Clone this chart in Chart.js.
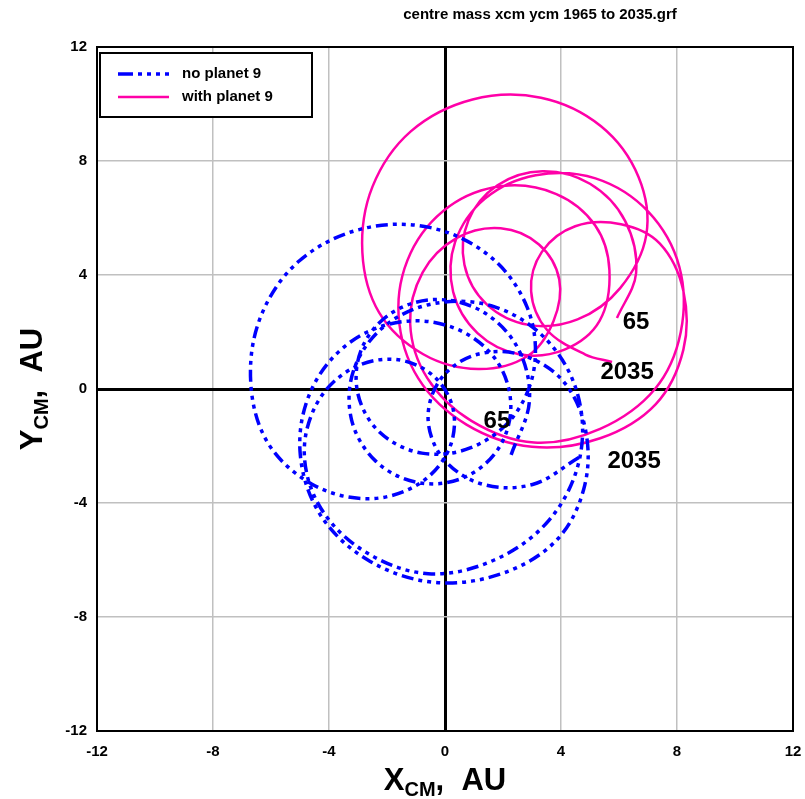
<!DOCTYPE html>
<html>
<head>
<meta charset="utf-8">
<title>centre mass xcm ycm 1965 to 2035</title>
<script src="https://cdn.jsdelivr.net/npm/chart.js@4.4.0/dist/chart.umd.min.js"></script>
<style>
  html, body { margin: 0; padding: 0; background: #ffffff; }
</style>
</head>
<body>
<canvas id="centreMass" width="805" height="799"></canvas>
<script>
// Sun's centre of mass path, one point a year from 1965 to 2035

// no planet 9 (blue, dash-dot-dot)
const noPlanet9X = [
    2.28, 2.91, 2.53, 1.32, -0.32, -1.87, -2.87, -3.01, -2.25, -0.80,
    0.89, 2.36, 3.09, 2.82, 1.53, -0.54, -2.90, -5.03, -6.35, -6.70,
    -6.12, -4.60, -2.71, -1.00, 0.09, 0.29, -0.41, -1.73, -3.24, -4.42,
    -4.85, -4.26, -2.74, -0.58, 1.70, 3.59, 4.63, 4.58, 3.50, 1.69,
    -0.37, -2.12, -3.15, -3.22, -2.38, -0.95, 0.62, 1.83, 2.27, 1.78,
    0.44, -1.41, -3.26, -4.59, -5.00, -4.32, -2.66, -0.40, 1.95, 3.87,
    4.82, 4.82, 4.01, 2.52, 0.94, -0.21, -0.58, -0.03, 1.29, 3.02,
    4.64
];
const noPlanet9Y = [
    -2.31, -0.43, 1.40, 2.70, 3.14, 2.65, 1.42, -0.14, -1.52, -2.25,
    -2.06, -0.96, 0.85, 2.90, 4.67, 5.67, 5.61, 4.49, 2.55, 0.25,
    -1.87, -3.33, -3.85, -3.39, -2.22, -0.76, 0.47, 1.04, 0.70, -0.51,
    -2.32, -4.22, -5.72, -6.48, -6.00, -4.60, -2.50, -0.21, 1.73, 2.89,
    3.00, 2.18, 0.66, -1.09, -2.54, -3.28, -3.12, -2.11, -0.58, 0.99,
    2.09, 2.37, 1.65, 0.01, -2.17, -4.38, -6.00, -6.78, -6.48, -5.28,
    -3.37, -1.31, 0.35, 1.23, 1.16, 0.26, -1.12, -2.48, -3.34, -3.35,
    -2.39
];

// with planet 9 (pink, solid) - the trace stops under the "2035" label
const withPlanet9X = [
    5.93, 6.59, 6.21, 5.00, 3.36, 1.81, 0.81, 0.67, 1.43, 2.88,
    4.57, 6.04, 6.94, 6.67, 5.38, 3.31, 0.95, -1.18, -2.50, -2.85,
    -2.27, -0.75, 1.14, 2.85, 3.74, 3.94, 3.24, 1.92, 0.41, -0.77,
    -1.20, -0.61, 0.91, 3.07, 5.35, 7.24, 8.13, 8.08, 7.00, 5.19,
    3.13, 1.38, 0.35, 0.28, 1.12, 2.55, 4.12, 5.33, 5.67, 5.18,
    3.84, 1.99, 0.14, -1.19, -1.60, -0.92, 0.74, 3.00, 5.35, 7.27,
    8.22, 8.22, 7.41, 6.07, 4.49, 3.34, 2.97, 3.52, 4.84, 5.76
];
const withPlanet9Y = [
    2.49, 4.07, 5.90, 7.20, 7.64, 7.15, 5.92, 4.36, 2.98, 2.25,
    2.44, 3.54, 5.40, 7.45, 9.22, 10.22, 10.16, 9.04, 7.10, 4.80,
    2.68, 1.22, 0.70, 1.16, 2.38, 3.84, 5.07, 5.64, 5.30, 4.09,
    2.28, 0.38, -1.12, -1.88, -1.40, 0.00, 2.00, 4.29, 6.23, 7.39,
    7.50, 6.68, 5.16, 3.41, 1.96, 1.22, 1.38, 2.39, 4.17, 5.74,
    6.84, 7.12, 6.40, 4.76, 2.58, 0.37, -1.25, -2.03, -1.73, -0.53,
    1.38, 3.44, 5.10, 5.78, 5.71, 4.81, 3.43, 2.07, 1.21, 0.95
];

// axis ticks
const xTicks = [-12, -8, -4, 0, 4, 8, 12];
const yTicks = [-12, -8, -4, 0, 4, 8, 12];

// year labels next to the start / end of each path
const yearText = ['65', '2035', '65', '2035'];
const yearX = [6.59, 6.28, 1.79, 6.52];
const yearY = [2.35, 0.60, -1.12, -2.53];

const BLUE = '#0000ff';
const PINK = '#ff00a8';
const BLUE_DASH = [12, 5, 4, 5, 4, 5, 4, 5];
const FONT = '"Liberation Sans", Arial, sans-serif';
const NARROW = '"Liberation Sans Narrow", "Liberation Sans", Arial, sans-serif';

function toPoints(xs, ys) {
    return xs.map((x, i) => ({ x: x, y: ys[i] }));
}

// draw "X" + subscript "CM" + ",  AU" centred on x, baseline y
function drawSubLabel(ctx, big, sub, rest, x, y) {
    const bigFont = 'bold 31px ' + NARROW;
    const subFont = 'bold 20px ' + NARROW;
    ctx.font = bigFont;
    const w1 = ctx.measureText(big).width;
    const w3 = ctx.measureText(rest).width;
    ctx.font = subFont;
    const w2 = ctx.measureText(sub).width;
    let cx = x - (w1 + w2 + w3) / 2;
    ctx.textAlign = 'left';
    ctx.textBaseline = 'alphabetic';
    ctx.font = bigFont;
    ctx.fillText(big, cx, y);
    cx += w1;
    ctx.font = subFont;
    ctx.fillText(sub, cx, y + 6);
    cx += w2;
    ctx.font = bigFont;
    ctx.fillText(rest, cx, y);
}

const decorations = {
    id: 'decorations',
    afterDatasetsDraw(chart) {
        const ctx = chart.ctx;
        const area = chart.chartArea;
        const xs = chart.scales.x;
        const ys = chart.scales.y;
        ctx.save();

        // frame round the plot
        ctx.strokeStyle = '#000';
        ctx.lineWidth = 2;
        ctx.strokeRect(area.left, area.top, area.right - area.left, area.bottom - area.top);

        // year labels
        ctx.fillStyle = '#000';
        ctx.font = 'bold 24px ' + FONT;
        ctx.textAlign = 'center';
        ctx.textBaseline = 'middle';
        yearText.forEach((t, i) => {
            ctx.fillText(t, xs.getPixelForValue(yearX[i]), ys.getPixelForValue(yearY[i]));
        });

        // legend box
        const lx = area.left + 3, ly = area.top + 6;
        ctx.fillStyle = '#fff';
        ctx.fillRect(lx, ly, 212, 64);
        ctx.strokeStyle = '#000';
        ctx.lineWidth = 2;
        ctx.strokeRect(lx, ly, 212, 64);

        ctx.lineWidth = 3.5;
        ctx.strokeStyle = BLUE;
        ctx.setLineDash([15, 5, 4, 5, 4, 5, 4, 5]);
        ctx.beginPath();
        ctx.moveTo(lx + 18, ly + 21);
        ctx.lineTo(lx + 69, ly + 21);
        ctx.stroke();
        ctx.setLineDash([]);
        ctx.lineWidth = 2.5;
        ctx.strokeStyle = PINK;
        ctx.beginPath();
        ctx.moveTo(lx + 18, ly + 44);
        ctx.lineTo(lx + 69, ly + 44);
        ctx.stroke();

        ctx.fillStyle = '#000';
        ctx.font = 'bold 15px ' + FONT;
        ctx.textAlign = 'left';
        ctx.textBaseline = 'middle';
        ctx.fillText('no planet 9', lx + 82, ly + 21);
        ctx.fillText('with planet 9', lx + 82, ly + 44);

        // chart title (sits right of centre in the original)
        ctx.font = 'bold 15px ' + NARROW;
        ctx.textAlign = 'center';
        ctx.textBaseline = 'middle';
        ctx.fillText('centre mass xcm ycm 1965 to 2035.grf', 540, 15);

        // axis titles
        drawSubLabel(ctx, 'X', 'CM', ',  AU', (area.left + area.right) / 2, 790);
        ctx.translate(42, (area.top + area.bottom) / 2);
        ctx.rotate(-Math.PI / 2);
        drawSubLabel(ctx, 'Y', 'CM', ',  AU', 0, 0);

        ctx.restore();
    }
};

const gridColour = c => (c.tick && c.tick.value === 0) ? '#000000' : '#c0c0c0';
const gridWidth = c => (c.tick && c.tick.value === 0) ? 3 : 1.5;

const chart = new Chart(document.getElementById('centreMass'), {
    type: 'scatter',
    data: {
        datasets: [
            {
                label: 'no planet 9',
                data: toPoints(noPlanet9X, noPlanet9Y),
                showLine: true,
                borderColor: BLUE,
                backgroundColor: BLUE,
                borderWidth: 3.5,
                borderDash: BLUE_DASH,
                pointRadius: 0,
                tension: 0.35,
                fill: false
            },
            {
                label: 'with planet 9',
                data: toPoints(withPlanet9X, withPlanet9Y),
                showLine: true,
                borderColor: PINK,
                backgroundColor: PINK,
                borderWidth: 2.5,
                pointRadius: 0,
                tension: 0.35,
                fill: false
            }
        ]
    },
    options: {
        responsive: false,
        animation: false,
        layout: { padding: { left: 0, right: 12, top: 47, bottom: 38 } },
        plugins: {
            legend: { display: false },
            title: { display: false },
            tooltip: { enabled: false }
        },
        scales: {
            x: {
                type: 'linear',
                min: -12,
                max: 12,
                afterBuildTicks: s => { s.ticks = xTicks.map(v => ({ value: v })); },
                afterFit: s => { s.height = 30; s.paddingLeft = 0; s.paddingRight = 0; },
                border: { display: false },
                grid: { color: gridColour, lineWidth: gridWidth, drawTicks: false },
                ticks: { color: '#000', padding: 12, font: { family: NARROW, size: 15, weight: 'bold' } }
            },
            y: {
                type: 'linear',
                min: -12,
                max: 12,
                afterBuildTicks: s => { s.ticks = yTicks.map(v => ({ value: v })); },
                afterFit: s => { s.width = 97; s.paddingTop = 0; s.paddingBottom = 0; },
                border: { display: false },
                grid: { color: gridColour, lineWidth: gridWidth, drawTicks: false },
                ticks: { color: '#000', padding: 10, font: { family: NARROW, size: 15, weight: 'bold' } }
            }
        }
    },
    plugins: [decorations]
});
</script>
</body>
</html>
